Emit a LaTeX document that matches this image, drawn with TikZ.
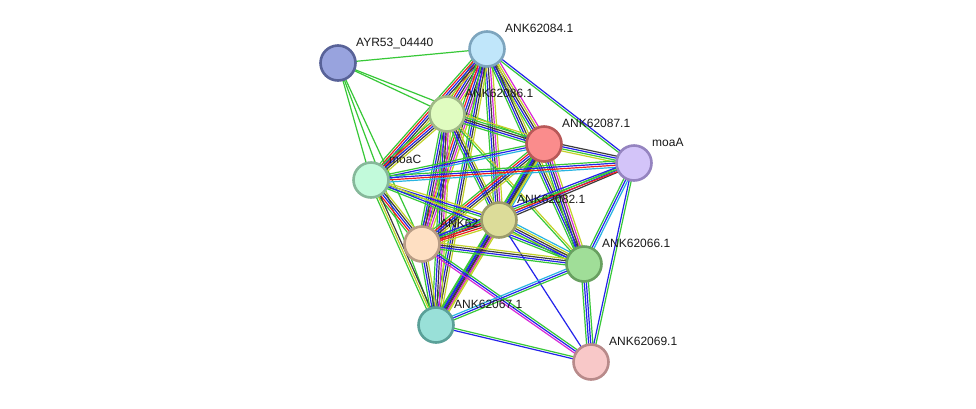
\documentclass[tikz,border=0pt]{standalone}
\usepackage{fontspec}
\setmainfont{Liberation Sans}
\usetikzlibrary{calc}
\pgfdeclarelayer{bgfill}
\pgfdeclarelayer{background}
\pgfsetlayers{bgfill,background,main}
\definecolor{sG}{RGB}{55,200,55}
\definecolor{sY}{RGB}{195,210,40}
\definecolor{sB}{RGB}{35,35,235}
\definecolor{sK}{RGB}{60,60,60}
\definecolor{sM}{RGB}{215,40,215}
\definecolor{sC}{RGB}{40,180,225}
\definecolor{sR}{RGB}{240,30,30}
\tikzset{
  prot/.style={circle,draw,line width=2.6pt,minimum size=35pt,inner sep=0pt},
  lbl/.style={anchor=base west,font=\fontsize{12}{14}\selectfont,inner sep=0pt,text=black!90},
  edg/.style={line width=1.2pt}
}
\newcommand{\bnd}[3]{%
  \foreach \c [count=\k] in {#3}{\xdef\bndn{\k}}%
  \begin{pgfonlayer}{background}
  \foreach \c [count=\i] in {#3}{%
    \pgfmathsetmacro\off{(\i-(\bndn+1)/2)*2.1}%
    \draw[edg,\c] ($(#1)!\off pt!90:(#2)$) -- ($(#2)!\off pt!-90:(#1)$);
  }
  \end{pgfonlayer}%
}
\begin{document}
\begin{tikzpicture}[x=1pt,y=-1pt]
\begin{pgfonlayer}{bgfill}
\fill[white] (0,0) rectangle (976,408);
\end{pgfonlayer}
\useasboundingbox (0,0) rectangle (976,408);
% nodes
\node[prot,fill={rgb,255:red,152;green,163;blue,222},draw={rgb,255:red,88;green,98;blue,152}] (nA) at (338,63) {};
\node[prot,fill={rgb,255:red,192;green,230;blue,250},draw={rgb,255:red,125;green,165;blue,190}] (n84) at (487,49) {};
\node[prot,fill={rgb,255:red,224;green,252;blue,192},draw={rgb,255:red,160;green,184;blue,135}] (n86) at (447,114) {};
\node[prot,fill={rgb,255:red,250;green,140;blue,140},draw={rgb,255:red,184;green,88;blue,88}] (n87) at (544,144) {};
\node[prot,fill={rgb,255:red,211;green,196;blue,249},draw={rgb,255:red,149;green,132;blue,192}] (nmoaA) at (634,163) {};
\node[prot,fill={rgb,255:red,194;green,250;blue,219},draw={rgb,255:red,134;green,184;blue,154}] (nmoaC) at (371,180) {};
\node[prot,fill={rgb,255:red,220;green,220;blue,153},draw={rgb,255:red,156;green,156;blue,106}] (n82) at (499,220) {};
\node[prot,fill={rgb,255:red,254;green,223;blue,194},draw={rgb,255:red,184;green,156;blue,133}] (nH) at (422,244) {};
\node[prot,fill={rgb,255:red,160;green,222;blue,152},draw={rgb,255:red,104;green,160;blue,96}] (n66) at (584,264) {};
\node[prot,fill={rgb,255:red,153;green,224;blue,216},draw={rgb,255:red,90;green,160;blue,152}] (n67) at (436,325) {};
\node[prot,fill={rgb,255:red,248;green,200;blue,200},draw={rgb,255:red,184;green,138;blue,138}] (n69) at (591,362) {};
% labels
\node[lbl] (lA) at ($(nA)+(18,-17)$) {AYR53\_04440};
\node[lbl] (l84) at ($(n84)+(18,-17)$) {ANK62084.1};
\node[lbl] (l86) at ($(n86)+(18,-17)$) {ANK62086.1};
\node[lbl] (l87) at ($(n87)+(18,-17)$) {ANK62087.1};
\node[lbl] (lmoaA) at ($(nmoaA)+(18,-17)$) {moaA};
\node[lbl] (lmoaC) at ($(nmoaC)+(18,-17)$) {moaC};
\node[lbl] (lH) at ($(nH)+(18,-17)$) {ANK62};
\node[lbl] (l82) at ($(n82)+(18,-17)$) {ANK62082.1};
\node[lbl] (l66) at ($(n66)+(18,-17)$) {ANK62066.1};
\node[lbl] (l67) at ($(n67)+(18,-17)$) {ANK62067.1};
\node[lbl] (l69) at ($(n69)+(18,-17)$) {ANK62069.1};
% edges
\bnd{nA}{n84}{sG}
\bnd{nA}{n86}{sG}
\bnd{nA}{n87}{sG}
\bnd{nA}{nmoaC}{sG}
\bnd{nA}{nH}{sG}
\bnd{nA}{n67}{sG}
\bnd{n84}{n86}{sG,sR,sB,sK,sM,sY}
\bnd{n84}{n87}{sG,sB,sK,sY,sM}
\bnd{n84}{nmoaC}{sG,sR,sB,sK,sY}
\bnd{n84}{nH}{sG,sR,sB,sK,sM,sY}
\bnd{n84}{n82}{sG,sB,sK,sM,sY}
\bnd{n84}{n67}{sG,sB,sK,sY}
\bnd{n84}{n66}{sG,sB,sK,sY}
\bnd{n84}{nmoaA}{sG,sB}
\bnd{n86}{n87}{sG,sB,sK,sG,sY}
\bnd{n86}{nmoaC}{sG,sR,sB,sK,sY}
\bnd{n86}{nH}{sG,sB,sK,sM,sY}
\bnd{n86}{n82}{sG,sB,sK,sY}
\bnd{n86}{n67}{sG,sB,sK,sM,sY}
\bnd{n86}{n66}{sG,sY}
\bnd{n87}{nmoaC}{sG,sB,sC}
\bnd{n87}{nH}{sG,sR,sB,sK,sY}
\bnd{n87}{n82}{sG,sB,sK,sY,sC}
\bnd{n87}{n67}{sG,sB,sK,sY}
\bnd{n87}{n66}{sG,sB,sK,sM,sY}
\bnd{n87}{nmoaA}{sY,sG,sB,sK}
\bnd{nmoaC}{nmoaA}{sC,sR,sB,sG}
\bnd{nmoaC}{n82}{sG,sB,sY}
\bnd{nmoaC}{nH}{sG,sR,sB,sK,sY}
\bnd{nmoaC}{n67}{sG,sY,sK}
\bnd{nmoaC}{n66}{sG,sB,sY}
\bnd{n82}{nmoaA}{sK,sB,sG}
\bnd{n82}{nH}{sG,sB,sK,sR,sY}
\bnd{n82}{n66}{sG,sB,sK,sY,sC}
\bnd{n82}{n67}{sG,sB,sK,sM,sY}
\bnd{n82}{n69}{sB}
\bnd{nH}{nmoaA}{sR,sG,sB}
\bnd{nH}{n66}{sG,sB,sK,sY}
\bnd{nH}{n67}{sG,sB,sK,sY}
\bnd{nH}{n69}{sM,sB,sG}
\bnd{n66}{n67}{sC,sB,sG}
\bnd{n66}{n69}{sG,sB,sB,sG}
\bnd{n66}{nmoaA}{sC,sB,sG}
\bnd{n67}{n69}{sB,sG}
\bnd{nmoaA}{n69}{sB,sG}
\end{tikzpicture}
\end{document}
